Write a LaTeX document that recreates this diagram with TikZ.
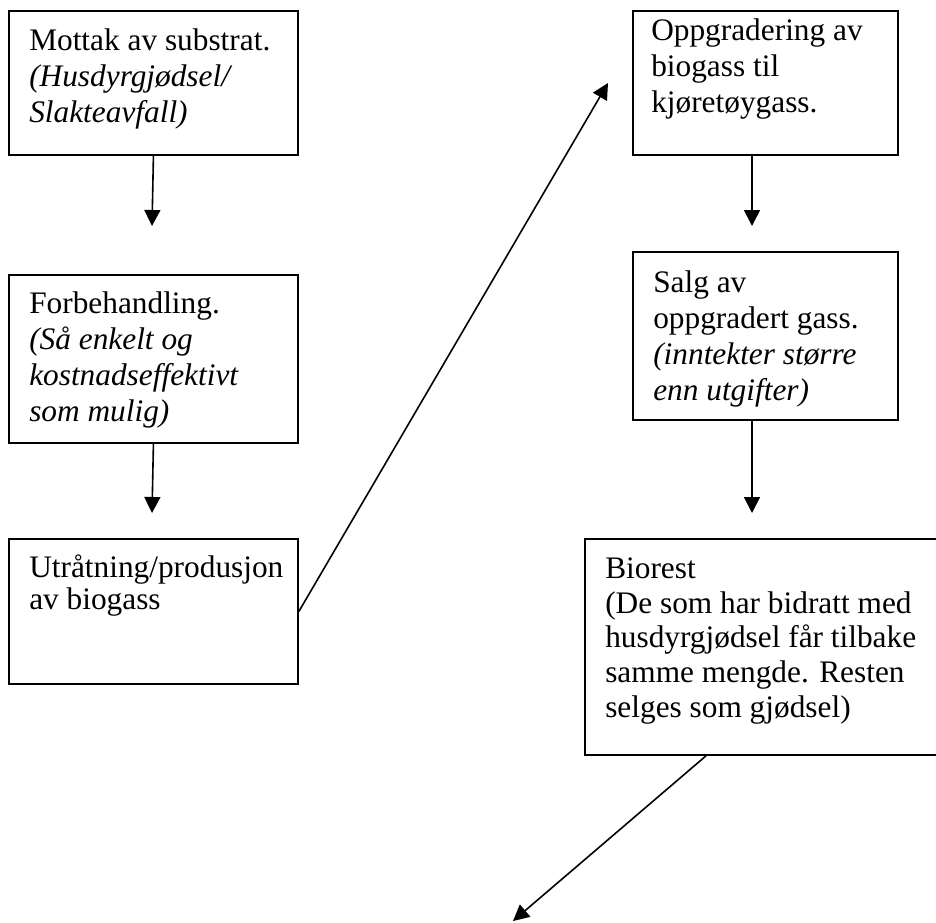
\documentclass[tikz,border=0pt]{standalone}
\usepackage{fontspec}
\setmainfont{Liberation Serif}
\usetikzlibrary{arrows.meta, positioning, calc}

\begin{document}
\begin{tikzpicture}[
  x=0.75pt, y=-0.75pt,
  box/.style={draw, line width=1.4pt, anchor=north west, inner sep=0pt,
    minimum width=#1},
  box/.default=216.75pt,
  txt/.style={anchor=base west, inner sep=0pt, align=left,
    font=\fontsize{23.5}{27}\selectfont},
  arr/.style={-{Triangle[length=12pt, width=12pt]}, line width=1.2pt}
]
  \useasboundingbox (0,0) rectangle (936,922);
  \clip (0,0) rectangle (936,922);

  % left column (text nodes sit on the baseline of their last line)
  \node[box, minimum height=108pt] (mottak) at (8,10) {};
  \node[txt] (mottakT) at (29,122)
    {Mottak av substrat.\\ \textit{(Husdyrgjødsel/}\\ \textit{Slakteavfall)}};

  \node[box, minimum height=126pt] (forbeh) at (8,274) {};
  \node[txt] (forbehT) at (29,421)
    {Forbehandling.\\ \textit{(Så enkelt og}\\ \textit{kostnadseffektivt}\\ \textit{som mulig)}};

  \node[box, minimum height=108.75pt] (utratning) at (8,538) {};
  \node[txt, font=\fontsize{23.5}{24}\selectfont] (utratningT) at (29,609)
    {Utråtning/produsjon\\ av biogass};

  % right column
  \node[box=198.75pt, minimum height=108pt] (oppgrad) at (632,10) {};
  \node[txt] (oppgradT) at (651,112)
    {Oppgradering av\\ biogass til\\ kjøretøygass.};

  \node[box=198.75pt, minimum height=126pt] (salg) at (632,251) {};
  \node[txt] (salgT) at (653,400)
    {Salg av\\ oppgradert gass.\\ \textit{(inntekter større}\\ \textit{enn utgifter)}};

  \node[box=270.75pt, minimum height=162pt] (biorest) at (584,538) {};
  \node[txt, font=\fontsize{23.5}{26}\selectfont] (biorestT) at (605,717)
    {Biorest\\ (De som har bidratt med\\ husdyrgjødsel får tilbake\\ samme mengde. Resten\\ selges som gjødsel)};

  % arrow ends
  \coordinate (tipA) at (152,226);
  \coordinate (tipB) at (152,513);
  \coordinate (tipC) at (608,83);
  \coordinate (tipD) at (752,226);
  \coordinate (tipE) at (752,513);
  \coordinate (tipF) at (513,921);

  \draw[arr] (mottak.south) -- (tipA);
  \draw[arr] (forbeh.south) -- (tipB);
  \draw[arr] (utratning.east) -- (tipC);
  \draw[arr] (oppgrad.south -| tipD) -- (tipD);
  \draw[arr] (salg.south -| tipE) -- (tipE);
  \draw[arr] ([xshift=-44.6pt]biorest.south) -- (tipF);
\end{tikzpicture}
\end{document}
